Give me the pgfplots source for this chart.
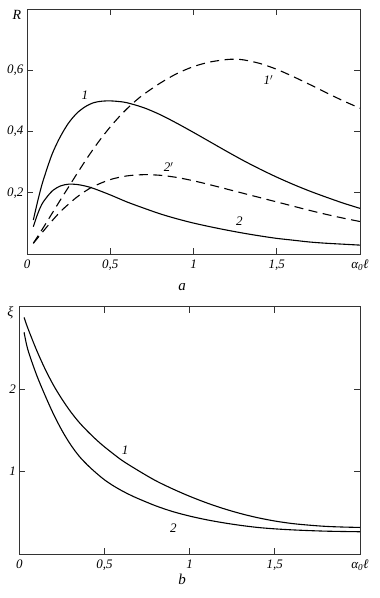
\documentclass[border=0pt]{standalone}
\usepackage{pgfplots}
\pgfplotsset{compat=1.18}
\usepackage{fontspec}
\setmainfont{Liberation Serif}
\tikzset{lab/.style={font=\fontsize{13}{15}\selectfont\itshape}}
\begin{document}
\begin{tikzpicture}
\useasboundingbox (0,0) rectangle (380pt,598pt);
\pgfplotsset{
  panel/.style={
    scale only axis,
    anchor=south west,
    xmin=0, xmax=2,
    tick align=inside,
    major tick length=6pt,
    axis line style={draw=black!80, line width=0.9pt},
    every tick/.style={draw=black!80, line width=0.7pt},
    xtick={0,0.5,1,1.5,2},
    xticklabels={{0},{0,5},{1},{1,5},{α\textsubscript{0}ℓ}},
    tick label style={font=\fontsize{13}{15}\selectfont\itshape},
    xticklabel style={yshift=-2pt},
    clip=false,
  },
  solidc/.style={black, line width=1.1pt, smooth},
  dashc/.style={black, line width=1.1pt, smooth, dash pattern=on 9pt off 5.5pt},
}
% ---------------- panel a ----------------
\begin{axis}[panel,
  at={(27pt,344pt)}, width=333pt, height=245pt,
  ymin=0, ymax=0.8,
  ytick={0.2,0.4,0.6,0.8},
  yticklabels={{0,2},{0,4},{0,6},{}},
]
% curve 1
\addplot[solidc] coordinates {
 (0.038,0.111) (0.06,0.163) (0.08,0.207) (0.10,0.245) (0.15,0.325)
 (0.20,0.383) (0.25,0.428) (0.30,0.460) (0.35,0.481) (0.40,0.494)
 (0.45,0.499) (0.50,0.500) (0.55,0.498) (0.60,0.494) (0.70,0.478)
 (0.80,0.455) (0.90,0.427) (1.00,0.397) (1.10,0.366) (1.20,0.335)
 (1.30,0.305) (1.40,0.277) (1.50,0.251) (1.60,0.227) (1.70,0.205)
 (1.80,0.185) (1.90,0.166) (2.00,0.149)};
% curve 2
\addplot[solidc] coordinates {
 (0.038,0.089) (0.06,0.125) (0.08,0.152) (0.10,0.172) (0.15,0.205)
 (0.20,0.222) (0.25,0.228) (0.30,0.227) (0.35,0.222) (0.40,0.214)
 (0.50,0.193) (0.60,0.170) (0.70,0.150) (0.80,0.131) (0.90,0.115)
 (1.00,0.101) (1.10,0.089) (1.20,0.078) (1.30,0.068) (1.40,0.059)
 (1.50,0.051) (1.60,0.045) (1.70,0.039) (1.80,0.035) (1.90,0.032)
 (2.00,0.029)};
% curve 1'
\addplot[dashc] coordinates {
 (0.038,0.035) (0.10,0.088) (0.15,0.132) (0.20,0.176) (0.25,0.219)
 (0.30,0.262) (0.35,0.304) (0.40,0.344) (0.45,0.381) (0.50,0.415)
 (0.55,0.446) (0.60,0.474) (0.65,0.499) (0.70,0.521) (0.80,0.558)
 (0.90,0.589) (1.00,0.612) (1.10,0.627) (1.20,0.635) (1.25,0.636)
 (1.30,0.634) (1.40,0.622) (1.50,0.603) (1.60,0.579) (1.70,0.553)
 (1.80,0.526) (1.90,0.500) (2.00,0.476)};
% curve 2'
\addplot[dashc] coordinates {
 (0.038,0.035) (0.10,0.076) (0.15,0.108) (0.20,0.138) (0.25,0.163)
 (0.30,0.186) (0.35,0.205) (0.40,0.221) (0.50,0.243) (0.60,0.255)
 (0.70,0.259) (0.80,0.257) (0.90,0.250) (1.00,0.239) (1.10,0.226)
 (1.20,0.212) (1.30,0.198) (1.40,0.184) (1.50,0.170) (1.60,0.156)
 (1.70,0.142) (1.80,0.129) (1.90,0.117) (2.00,0.106)};
\node[lab] at (axis cs:0.348,0.519) {1};
\node[lab] at (axis cs:1.45,0.568) {1$'$};
\node[lab] at (axis cs:0.85,0.284) {2$'$};
\node[lab] at (axis cs:1.275,0.108) {2};
\node[lab, font=\fontsize{14}{16}\selectfont\itshape, anchor=east] at (axis cs:0,0.78) {R\,};
\end{axis}
% ---------------- panel b ----------------
\begin{axis}[panel,
  at={(19.3pt,44pt)}, width=340.7pt, height=247.3pt,
  ymin=0, ymax=3,
  ytick={1,2,3},
  yticklabels={{1},{2},{}},
]
% curve 1
\addplot[solidc] coordinates {
 (0.028,2.87) (0.05,2.74) (0.10,2.48) (0.15,2.25) (0.20,2.05)
 (0.25,1.88) (0.30,1.73) (0.35,1.60) (0.40,1.49) (0.45,1.39)
 (0.50,1.30) (0.60,1.14) (0.70,1.01) (0.80,0.89) (0.90,0.79)
 (1.00,0.70) (1.10,0.62) (1.20,0.55) (1.30,0.49) (1.40,0.44)
 (1.50,0.40) (1.60,0.37) (1.70,0.35) (1.80,0.335) (1.90,0.327)
 (2.00,0.322)};
% curve 2
\addplot[solidc] coordinates {
 (0.028,2.69) (0.05,2.48) (0.10,2.18) (0.15,1.93) (0.20,1.70)
 (0.25,1.50) (0.30,1.33) (0.35,1.19) (0.40,1.08) (0.45,0.985)
 (0.50,0.90) (0.55,0.83) (0.60,0.77) (0.65,0.717) (0.70,0.67)
 (0.80,0.585) (0.90,0.515) (1.00,0.46) (1.10,0.415) (1.20,0.378)
 (1.30,0.347) (1.40,0.322) (1.50,0.305) (1.60,0.293) (1.70,0.284)
 (1.80,0.277) (1.90,0.273) (2.00,0.270)};
\node[lab] at (axis cs:0.621,1.26) {1};
\node[lab] at (axis cs:0.905,0.315) {2};
\node[lab, font=\fontsize{14}{16}\selectfont\itshape, anchor=east] at (axis cs:0,2.93) {ξ\,};
\end{axis}
\node[font=\fontsize{15}{17}\selectfont\itshape] at (182pt,311pt) {a};
\node[font=\fontsize{15}{17}\selectfont\itshape] at (182pt,19pt) {b};
\end{tikzpicture}
\end{document}
